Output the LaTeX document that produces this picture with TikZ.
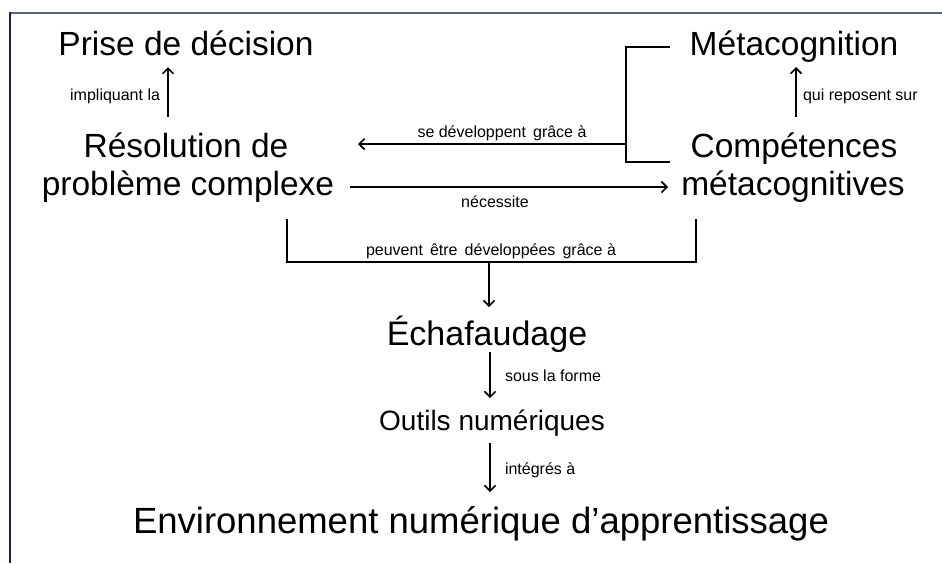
\documentclass[tikz,border=0pt]{standalone}
\usepackage{fontspec}
\setmainfont{Liberation Sans}
\usetikzlibrary{arrows.meta,calc}

\definecolor{frametop}{HTML}{56647A}
\definecolor{frameleft}{HTML}{1A2640}

\tikzset{
  big/.style={inner sep=0pt, outer sep=0pt, anchor=base, font=\fontsize{33.5}{36}\selectfont},
  lbl/.style={inner sep=0pt, outer sep=0pt, font=\fontsize{16}{18}\selectfont},
  conn/.style={line width=1.8pt, black},
  arr/.style={conn, -{Straight Barb[length=5.5pt,width=11pt,line width=1.6pt]}}
}

\begin{document}
\begin{tikzpicture}[x=1pt,y=1pt]
  \useasboundingbox (0,0) rectangle (942,-563);

  % frame lines
  \draw[frametop, line width=2pt] (10,-13) -- (942,-13);
  \draw[frameleft, line width=2pt] (10,-12) -- (10,-563);

  % concepts
  \node[big] (pd)    at (186,-55)  {Prise de décision};
  \node[big] (res1)  at (186,-157) {Résolution de};
  \node[big] (res2)  at (188,-195) {problème complexe};
  \node[big] (met)   at (794,-55)  {Métacognition};
  \node[big] (comp1) at (794,-157) {Compétences};
  \node[big] (comp2) at (793,-195) {métacognitives};
  \node[big, font=\fontsize{34}{36}\selectfont] (ech) at (487,-345) {Échafaudage};
  \node[big, font=\fontsize{28}{30}\selectfont] (out) at (492,-430) {Outils numériques};
  \node[big, font=\fontsize{36.5}{38}\selectfont] (env) at (481,-533) {Environnement numérique d’apprentissage};

  % Résolution -> Prise de décision
  \draw[arr] ([shift={(-18,40)}]res1.base) -- ([shift={(-18,-12)}]pd.base);
  \node[lbl, anchor=base east] (l1) at (160,-100) {impliquant la};

  % Compétences -> Métacognition
  \draw[arr] ([shift={(2,40)}]comp1.base) -- ([shift={(2,-12)}]met.base);
  \node[lbl, anchor=base west] (l2) at (803,-100) {qui reposent sur};

  % bracket joining Métacognition and Compétences
  \draw[conn] ([shift={(-124,8)}]met.base) -| ([shift={(-168,-5)}]comp1.base)
              -- ([shift={(-124,-5)}]comp1.base);
  \draw[arr] ([shift={(-168,13)}]comp1.base) -- ([shift={(172,13)}]res1.base);
  \node[lbl, anchor=base] (l3) at (502,-137) {se développent\, grâce à};

  % Résolution -> Compétences
  \draw[arr] ([shift={(162,8)}]res2.base) -- ([shift={(-125,8)}]comp2.base);
  \node[lbl, anchor=base] (l4) at (495,-207) {nécessite};

  % bracket under both, leading to Échafaudage
  \draw[conn] ([shift={(99,-24)}]res2.base) |- ([shift={(-97,-67)}]comp2.base)
              -- ([shift={(-97,-24)}]comp2.base);
  \coordinate (jb) at (489,-262);
  \draw[arr] (jb) -- ([shift={(2,38)}]ech.base);
  \node[lbl, anchor=base] (l5) at (491,-255) {peuvent\, être\, développées\, grâce à};

  % Échafaudage -> Outils numériques
  \draw[arr] ([shift={(3,-7)}]ech.base) -- ([shift={(-2,32)}]out.base);
  \node[lbl, anchor=base west] (l6) at (505,-381) {sous la forme};

  % Outils numériques -> Environnement
  \draw[arr] ([shift={(-2,-13)}]out.base) -- ([shift={(9,41)}]env.base);
  \node[lbl, anchor=base west] (l7) at (505,-474) {intégrés à};
\end{tikzpicture}
\end{document}
